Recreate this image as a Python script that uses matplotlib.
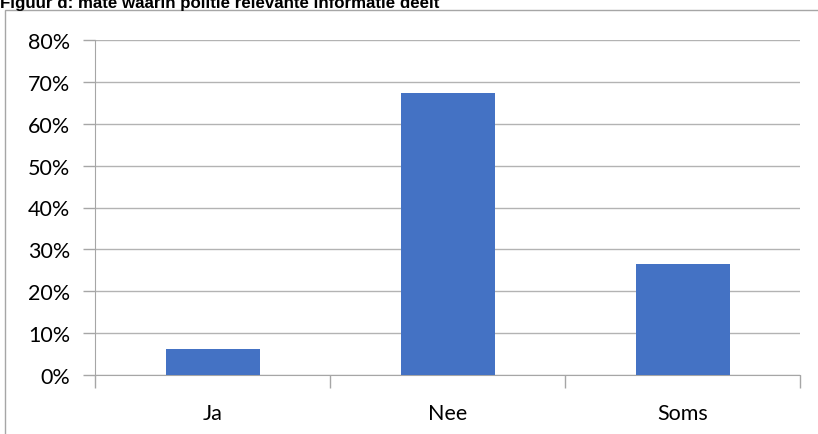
import matplotlib
matplotlib.use("Agg")
import matplotlib.pyplot as plt
from matplotlib.patches import Rectangle
from matplotlib.ticker import FixedLocator

categories = ["Ja", "Nee", "Soms"]
values = [6.3, 67.4, 26.4]
yticks = [0, 10, 20, 30, 40, 50, 60, 70, 80]
title = "Figuur d: mate waarin politie relevante informatie deelt"

W, H = 818, 435
fig = plt.figure(figsize=(W / 100, H / 100), dpi=100)

# outer chart border
fig.patches.append(Rectangle((5 / W, -0.01), 1.0, (H - 11) / H + 0.01,
                             transform=fig.transFigure, fill=False,
                             edgecolor="#a6a6a6", linewidth=1.0))

fig.text(0 / W, 1 - 8 / H, title, fontsize=12.2, fontweight="bold",
         family="Liberation Sans", va="baseline", ha="left", color="black")

left, right, top, bottom = 95, 800, 41, 376
ax = fig.add_axes([left / W, 1 - bottom / H, (right - left) / W, (bottom - top) / H])

x = range(len(categories))
ax.bar(x, values, width=0.4, color="#4472C4", zorder=3)
ax.set_xlim(-0.5, len(categories) - 0.5)
ax.set_ylim(0, 80)
ax.set_yticks(yticks)
ax.set_yticklabels([f"{v}%" for v in yticks])
ax.yaxis.grid(True, color="#b3b3b3", linewidth=1.0, zorder=0)

ax.set_xticks(list(x))
ax.set_xticklabels(categories)
ax.tick_params(axis="x", which="major", length=0, pad=20, labelsize=15.5)
ax.xaxis.set_minor_locator(FixedLocator([-0.5, 0.5, 1.5, 2.5]))
ax.tick_params(axis="x", which="minor", length=9, color="#a6a6a6", width=1.0)
ax.tick_params(axis="y", length=9, color="#a6a6a6", width=1.0, labelsize=15.5, pad=9)

for lab in ax.get_xticklabels() + ax.get_yticklabels():
    lab.set_family("Lato")

for s in ["top", "right"]:
    ax.spines[s].set_visible(False)
ax.spines["left"].set_color("#a6a6a6")
ax.spines["bottom"].set_color("#a6a6a6")

fig.savefig("out.png", dpi=100)
